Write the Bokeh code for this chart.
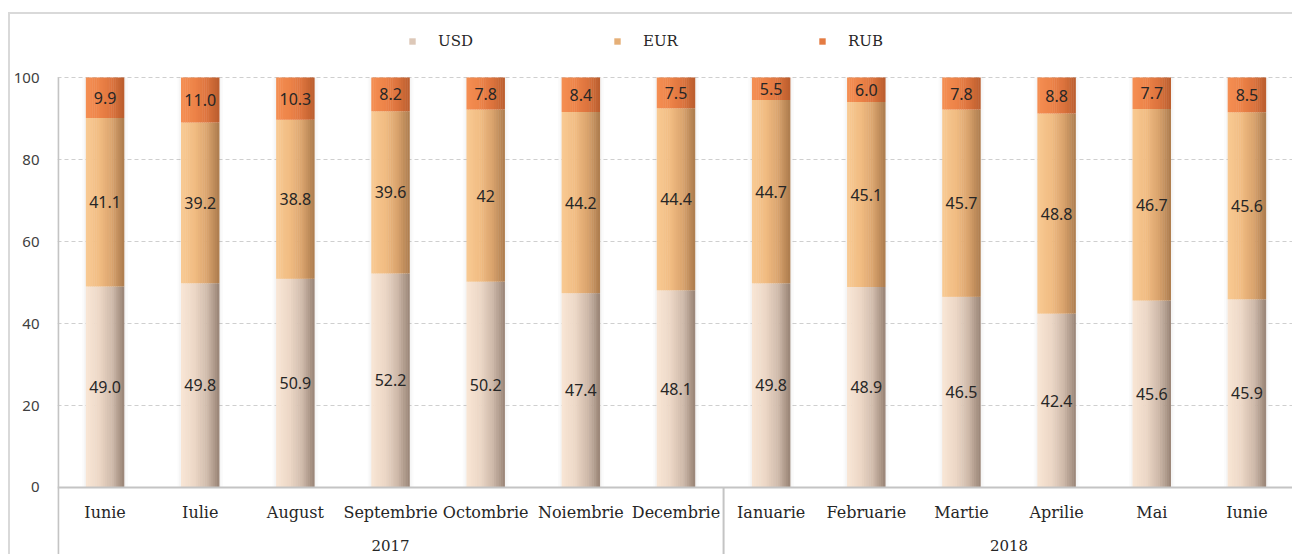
from bokeh.plotting import figure
from bokeh.models import ColumnDataSource, FactorRange, Range1d, FixedTicker, Legend, LegendItem, Span
from bokeh.transform import dodge
from bokeh.core.properties import value
from bokeh.embed import file_html
from bokeh.resources import INLINE

# ---------------- data ----------------
years = ["2017"] * 7 + ["2018"] * 6
months = ["Iunie", "Iulie", "August", "Septembrie", "Octombrie", "Noiembrie", "Decembrie",
          "Ianuarie", "Februarie", "Martie", "Aprilie", "Mai", "Iunie"]
year_groups = ["2017", "2018"]
usd = [49.0, 49.8, 50.9, 52.2, 50.2, 47.4, 48.1, 49.8, 48.9, 46.5, 42.4, 45.6, 45.9]
eur = [41.1, 39.2, 38.8, 39.6, 42.0, 44.2, 44.4, 44.7, 45.1, 45.7, 48.8, 46.7, 45.6]
rub = [9.9, 11.0, 10.3, 8.2, 7.8, 8.4, 7.5, 5.5, 6.0, 7.8, 8.8, 7.7, 8.5]
usd_labels = ["49.0", "49.8", "50.9", "52.2", "50.2", "47.4", "48.1", "49.8", "48.9", "46.5", "42.4", "45.6", "45.9"]
eur_labels = ["41.1", "39.2", "38.8", "39.6", "42", "44.2", "44.4", "44.7", "45.1", "45.7", "48.8", "46.7", "45.6"]
rub_labels = ["9.9", "11.0", "10.3", "8.2", "7.8", "8.4", "7.5", "5.5", "6.0", "7.8", "8.8", "7.7", "8.5"]
series_names = ["USD", "EUR", "RUB"]
y_ticks = [0, 20, 40, 60, 80, 100]

# ---------------- derived ----------------
factors = list(zip(years, months))
usd_top = list(usd)
eur_top = [a + b for a, b in zip(usd, eur)]
rub_top = [a + b + c for a, b, c in zip(usd, eur, rub)]
src = ColumnDataSource(dict(
    x=factors, month=months,
    usd_b=[0] * len(usd), usd_t=usd_top,
    eur_b=usd_top, eur_t=eur_top,
    rub_b=eur_top, rub_t=rub_top,
    usd_c=[u / 2 for u in usd],
    eur_c=[u + e / 2 for u, e in zip(usd, eur)],
    rub_c=[t + r / 2 for t, r in zip(eur_top, rub)],
    usd_l=usd_labels, eur_l=eur_labels, rub_l=rub_labels,
    full=[100] * len(usd),
))

Y0, Y1 = -16.83, 115.37
p = figure(width=1284, height=542, output_backend="svg", toolbar_location=None,
           x_range=FactorRange(factors=factors, group_padding=0, factor_padding=0, range_padding=0),
           y_range=Range1d(Y0, Y1), x_axis_location=None,
           min_border_left=44, min_border_right=0, min_border_top=0, min_border_bottom=0)
p.styles = {"margin-left": "8px", "margin-top": "12px",
            "border-left": "2px solid #d9d9d9", "border-top": "2px solid #d9d9d9"}
p.outline_line_color = None
p.background_fill_color = "white"
p.border_fill_color = "white"

# axes / grid
p.yaxis.ticker = FixedTicker(ticks=y_ticks)
p.yaxis.major_tick_line_color = None
p.yaxis.minor_tick_line_color = None
p.yaxis.axis_line_color = None
p.yaxis.major_label_standoff = 12
p.yaxis.major_label_text_font = "Noto Sans"
p.yaxis.major_label_text_font_size = "15px"
p.yaxis.major_label_text_color = "#404040"
p.xgrid.visible = False
p.ygrid.ticker = FixedTicker(ticks=y_ticks[1:])
p.ygrid.grid_line_color = "#cfcfcf"
p.ygrid.grid_line_dash = "4 3"
p.ygrid.grid_line_width = 1

# left axis line (from 100 down through the category area)
first = ColumnDataSource(dict(x=[factors[0]], y0=[100], y1=[Y0]))
p.segment(x0=dodge("x", -0.492, range=p.x_range), x1=dodge("x", -0.492, range=p.x_range),
          y0="y0", y1="y1", source=first, line_color="#c4c4c4", line_width=2)

# bar shadows
for wdt, alpha in [(0.48, 0.035), (0.44, 0.05)]:
    p.vbar(x="x", width=wdt, bottom=0, top="full", source=src,
           fill_color="#808080", fill_alpha=alpha, line_color=None)


def hex2rgb(h):
    h = h.lstrip("#")
    return tuple(int(h[i:i + 2], 16) for i in (0, 2, 4))


def interp(stops, t):
    for (t0, c0), (t1, c1) in zip(stops, stops[1:]):
        if t <= t1:
            f = (t - t0) / (t1 - t0) if t1 > t0 else 0
            a, b = hex2rgb(c0), hex2rgb(c1)
            return "#%02x%02x%02x" % tuple(int(round(a[i] + (b[i] - a[i]) * f)) for i in range(3))
    return stops[-1][1]


grads = {
    "usd": [(0, "#f8e5d4"), (0.35, "#ecd7c6"), (0.7, "#cfbaaa"), (1, "#9d887a")],
    "eur": [(0, "#f8c992"), (0.35, "#f1bc82"), (0.7, "#d9a36d"), (1, "#b07f50")],
    "rub": [(0, "#f48e52"), (0.35, "#ed8348"), (0.7, "#dc733d"), (1, "#bd5f2f")],
}

BW = 0.4
N = 18
sw = BW / N
legend_r = {}
for key in ["usd", "eur", "rub"]:
    for k in range(N):
        off = -BW / 2 + (k + 0.5) * sw
        col = interp(grads[key], k / (N - 1))
        r = p.vbar(x=dodge("x", off, range=p.x_range), width=sw * 1.2,
                   bottom=key + "_b", top=key + "_t", source=src,
                   fill_color=col, line_color=None)
        if k == N // 2:
            legend_r[key] = r

# value labels
for key in ["usd", "eur", "rub"]:
    p.text(x="x", y=key + "_c", text=key + "_l", source=src,
           text_align="center", text_baseline="middle",
           text_font=value("Noto Sans"), text_font_size="16px", text_color="#262626")

# baseline (x axis line)
p.add_layout(Span(location=0, dimension="width", line_color="#c4c4c4", line_width=2))

# group separator between years
sep_src = ColumnDataSource(dict(x=[("2017", "Decembrie")], y0=[0], y1=[Y0]))
p.segment(x0=dodge("x", 0.5, range=p.x_range), x1=dodge("x", 0.5, range=p.x_range),
          y0="y0", y1="y1", source=sep_src, line_color="#c4c4c4", line_width=2)

# category labels
p.text(x="x", y=-6.1, text="month", source=src, text_align="center", text_baseline="middle",
       text_font=value("DejaVu Serif"), text_font_size="16px", text_color="#262626")
p.text(x=year_groups, y=[-14.1] * len(year_groups), text=year_groups,
       text_align="center", text_baseline="middle",
       text_font=value("DejaVu Serif"), text_font_size="15px", text_color="#262626")

# legend
legend = Legend(items=[LegendItem(label=n, renderers=[legend_r[k]])
                       for n, k in zip(series_names, ["usd", "eur", "rub"])],
                orientation="horizontal", location=(351, 506),
                glyph_width=8, glyph_height=8, label_standoff=22, label_width=150,
                spacing=25, padding=0, margin=0,
                background_fill_alpha=0, border_line_color=None,
                label_text_font="DejaVu Serif", label_text_font_size="15px",
                label_text_color="#262626")
p.add_layout(legend, "center")

open("out.html", "w").write(file_html(p, INLINE))
